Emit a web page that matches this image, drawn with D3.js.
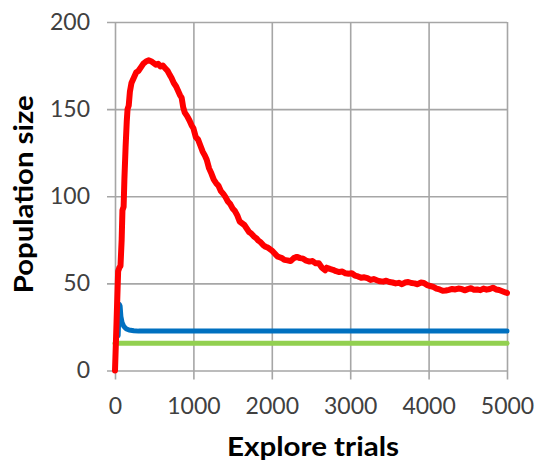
<!DOCTYPE html>
<html>
<head>
<meta charset="utf-8">
<script src="https://cdn.jsdelivr.net/npm/d3@7"></script>
<style>
  html, body { margin: 0; padding: 0; background: #fff; }
  svg { display: block; }
</style>
</head>
<body>
<svg id="chart" width="535" height="462"></svg>
<script>
// Axis ticks
const xTicks = [0, 1000, 2000, 3000, 4000, 5000];
const yTicks = [0, 50, 100, 150, 200];

// Red series: trials and population size
const redTrials = [0, 20, 40, 55, 70, 85, 95, 110, 120, 135, 150, 160, 175, 190, 210, 240, 270, 300, 330, 360,
  400, 430, 460, 490, 520, 550, 580, 610, 640, 670, 700, 720, 750, 780, 800, 830, 850, 870, 890, 920,
  950, 980, 1000, 1030, 1060, 1090, 1120, 1150, 1170, 1200, 1230, 1260, 1290, 1320, 1350, 1380, 1410, 1440, 1470, 1500,
  1530, 1560, 1590, 1620, 1650, 1680, 1710, 1740, 1770, 1800, 1830, 1860, 1890, 1920, 1950, 1980, 2010, 2040, 2070, 2100,
  2130, 2160, 2200, 2240, 2280, 2320, 2360, 2400, 2440, 2480, 2520, 2560, 2600, 2640, 2680, 2700, 2740, 2780, 2820, 2860,
  2900, 2940, 2980, 3020, 3060, 3100, 3140, 3180, 3220, 3260, 3300, 3340, 3380, 3420, 3460, 3500, 3540, 3580, 3620, 3660,
  3700, 3740, 3780, 3820, 3860, 3900, 3940, 3980, 4020, 4060, 4100, 4140, 4180, 4220, 4260, 4300, 4340, 4380, 4420, 4460,
  4500, 4540, 4580, 4620, 4660, 4700, 4740, 4780, 4820, 4860, 4900, 4940, 4980, 5000];
const redValues = [0, 28, 57, 59, 60, 75, 92, 94, 110, 128, 143, 150, 152, 160, 165, 168, 171, 172, 174, 176,
  177.5, 178, 177.5, 176.5, 175.5, 176, 174.5, 175, 173.5, 172, 169.5, 168, 165, 163, 161, 158, 156.5, 151, 148, 146,
  143.5, 140.5, 139, 134, 132.5, 129, 125.5, 123, 121, 116, 113, 109.5, 107.5, 106, 103, 101.5, 99.5, 97, 95.5, 93,
  91.5, 89, 85.5, 84.5, 83.5, 81.5, 79.5, 78.5, 77, 76, 74.5, 73.5, 72, 71, 70.5, 69.5, 68.5, 67, 65.5, 65,
  64.5, 63.5, 63.2, 62.8, 64.5, 65.2, 64.5, 64.2, 63, 62.5, 62.8, 61.5, 61.5, 59, 57.5, 59, 58.3, 57.8, 57, 56.5,
  56.8, 55.8, 55.5, 55.8, 54.5, 54, 53.2, 53.5, 53, 52, 52.5, 51.8, 51.2, 51, 51.5, 50.8, 50.5, 50, 50.3, 49.5,
  50.5, 50.8, 50.2, 50, 49.5, 50.5, 50.2, 49, 48.5, 48, 47, 46.5, 45.8, 45.9, 46.3, 46.8, 46.5, 47, 46.8, 46,
  46.7, 47.2, 46.3, 46.5, 46.1, 47, 46.4, 46.8, 47.5, 46.5, 46.2, 45.5, 44.8, 44.5];

// Blue series
const blueTrials = [40, 55, 65, 75, 90, 110, 140, 180, 240, 300, 1000, 2000, 3000, 4000, 5000];
const blueValues = [20, 38, 37, 31, 27.5, 25.5, 24, 23.2, 22.8, 22.6, 22.6, 22.6, 22.6, 22.6, 22.6];

// Green series
const greenTrials = [0, 1000, 2000, 3000, 4000, 5000];
const greenValues = [15.6, 15.6, 15.6, 15.6, 15.6, 15.6];

const svg = d3.select("#chart");
const plotLeft = 115, plotRight = 507, plotTop = 22, plotBottom = 370.5;

const x = d3.scaleLinear().domain([0, 5000]).range([plotLeft, plotRight]);
const y = d3.scaleLinear().domain([0, 200]).range([plotBottom, plotTop]);

const gridColor = "#a6a6a6";
const tickFont = "Lato, 'Open Sans', sans-serif";

// Horizontal grid lines (with the small outward tick on the left)
const gy = svg.append("g")
  .attr("transform", `translate(${plotLeft - 8},0)`)
  .call(d3.axisLeft(y).tickValues(yTicks).tickSize(-(plotRight - plotLeft + 8)).tickFormat(""));
gy.select(".domain").remove();
gy.selectAll(".tick line").attr("stroke", gridColor).attr("stroke-width", 1.6);

// Vertical grid lines (with the small outward tick below)
const gx = svg.append("g")
  .attr("transform", `translate(0,${plotBottom + 9})`)
  .call(d3.axisBottom(x).tickValues(xTicks).tickSize(-(plotBottom + 9 - plotTop)).tickFormat(""));
gx.select(".domain").remove();
gx.selectAll(".tick line").attr("stroke", gridColor).attr("stroke-width", 1.6);

// Y tick labels
const ly = svg.append("g")
  .attr("transform", `translate(${plotLeft},0)`)
  .call(d3.axisLeft(y).tickValues(yTicks).tickSize(0).tickPadding(25).tickFormat(d3.format("d")));
ly.select(".domain").remove();
ly.selectAll("text")
  .attr("font-family", tickFont).attr("font-size", 23).attr("fill", "#404040");

// X tick labels
const lx = svg.append("g")
  .attr("transform", `translate(0,${plotBottom})`)
  .call(d3.axisBottom(x).tickValues(xTicks).tickSize(0).tickPadding(27).tickFormat(d3.format("d")));
lx.select(".domain").remove();
lx.selectAll("text")
  .attr("font-family", tickFont).attr("font-size", 23).attr("fill", "#404040");

// Series lines
const series = [
  { t: greenTrials, v: greenValues, color: "#92d050", width: 5 },
  { t: blueTrials, v: blueValues, color: "#0070c0", width: 5 },
  { t: redTrials, v: redValues, color: "#ff0000", width: 6 }
];
const line = d3.line().x(d => x(d[0])).y(d => y(d[1]));
series.forEach(s => {
  svg.append("path")
    .datum(s.t.map((t, i) => [t, s.v[i]]))
    .attr("fill", "none")
    .attr("stroke", s.color)
    .attr("stroke-width", s.width)
    .attr("stroke-linejoin", "round")
    .attr("stroke-linecap", "round")
    .attr("d", line);
});

// Axis titles
svg.append("text")
  .attr("x", (plotLeft + plotRight) / 2 + 2)
  .attr("y", 456)
  .attr("text-anchor", "middle")
  .attr("font-family", tickFont)
  .attr("font-weight", "bold")
  .attr("font-size", 26)
  .attr("textLength", 172)
  .attr("lengthAdjust", "spacingAndGlyphs")
  .attr("fill", "#000")
  .text("Explore trials");

svg.append("text")
  .attr("transform", `translate(33,${(plotTop + plotBottom) / 2 - 2}) rotate(-90)`)
  .attr("text-anchor", "middle")
  .attr("font-family", tickFont)
  .attr("font-weight", "bold")
  .attr("font-size", 26)
  .attr("textLength", 198)
  .attr("lengthAdjust", "spacingAndGlyphs")
  .attr("fill", "#000")
  .text("Population size");
</script>
</body>
</html>
